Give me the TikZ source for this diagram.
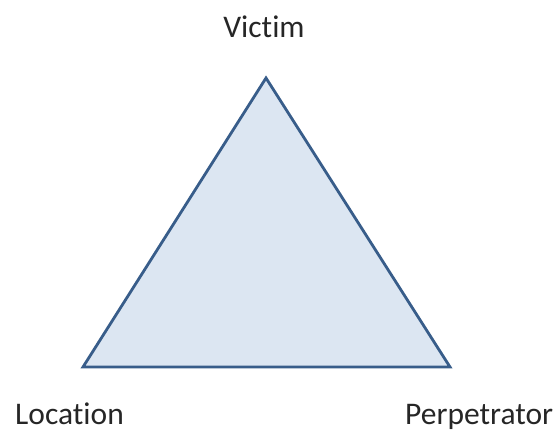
\documentclass[tikz,border=0pt]{standalone}
\usepackage{fontspec}
\setmainfont[RawFeature=-liga]{Carlito}
\definecolor{triline}{RGB}{56,93,138}
\definecolor{trifill}{RGB}{220,230,242}
\begin{document}
\begin{tikzpicture}[x=1pt,y=1pt,
  lbl/.style={inner sep=0pt,font=\fontsize{31.5}{34}\selectfont,text=black!85}]
\useasboundingbox (0,0) rectangle (556,432);
\coordinate (top) at (266,354);
\coordinate (bl) at (83,65);
\coordinate (br) at (450,65);
\draw[triline,fill=trifill,line width=2.8pt,line join=miter] (top) -- (bl) -- (br) -- cycle;
\node[lbl,anchor=base] (victim) at (264,394) {Victim};
\node[lbl,anchor=base west] (location) at (15,8) {Location};
\node[lbl,anchor=base west] (perp) at (405,8) {Perpetrator};
\end{tikzpicture}
\end{document}
